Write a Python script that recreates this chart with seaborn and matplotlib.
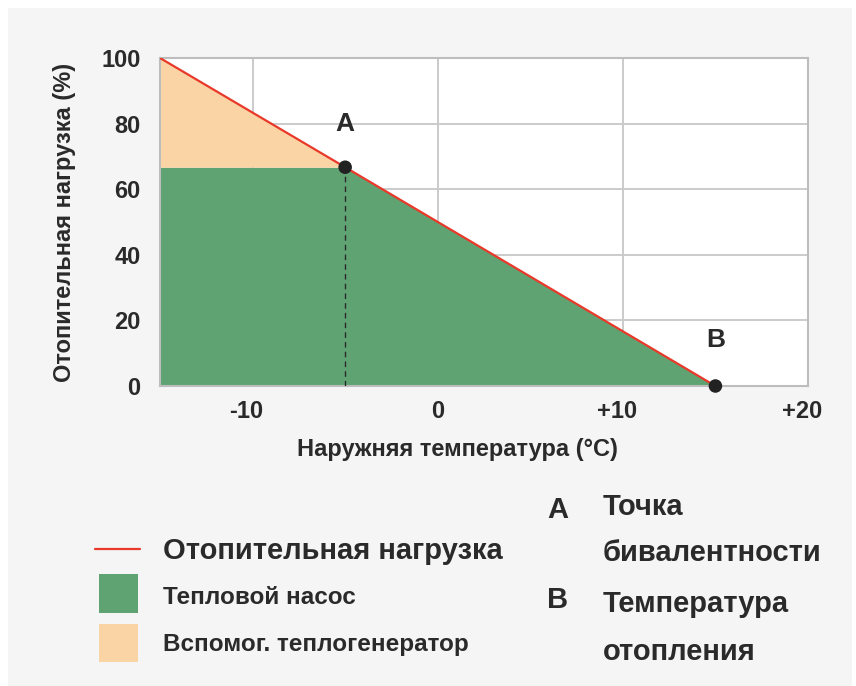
import matplotlib
matplotlib.use("Agg")
import matplotlib.pyplot as plt
import matplotlib.transforms as mtransforms
import seaborn as sns
import pandas as pd
from matplotlib.patches import Rectangle

# data
temps = [-15, -5, 15]
load = [100, 66.7, 0]          # Отопительная нагрузка
pump = [66.7, 66.7, 0]         # Тепловой насос
points_x = [-5, 15]
points_y = [66.7, 0]
point_names = ["A", "B"]
xticks = [-10, 0, 10, 20]
xtick_labels = ["-10", "0", "+10", "+20"]
yticks = [0, 20, 40, 60, 80, 100]

legend_labels = ["Отопительная нагрузка", "Тепловой насос", "Вспомог. теплогенератор"]
notes = [("A", "Точка", "бивалентности"), ("B", "Температура", "отопления")]

red = "#e8392a"
green = "#5fa373"
orange = "#fad4a4"
ink = "#2a2a2a"
grid = "#cbcbcb"

sns.set_theme(style="whitegrid")
plt.rcParams["font.family"] = ["Liberation Sans", "DejaVu Sans"]
plt.rcParams["font.weight"] = "bold"

fig = plt.figure(figsize=(8.56, 6.86), dpi=100)
fig.patch.set_facecolor("white")
fig.patches.append(Rectangle((8 / 856, 0), 844 / 856, 678 / 686, transform=fig.transFigure,
                             facecolor="#f5f5f5", edgecolor="none", zorder=-10))

ax = fig.add_axes([160 / 856, 300 / 686, 648 / 856, 328 / 686])
ax.set_facecolor("white")

df = pd.DataFrame({"t": temps, "load": load, "pump": pump})
ax.fill_between(df["t"], 0, df["pump"], color=green, linewidth=0, zorder=2)
ax.fill_between(df["t"], df["pump"], df["load"], color=orange, linewidth=0, zorder=2)
sns.lineplot(data=df, x="t", y="load", color=red, linewidth=1.6, ax=ax, zorder=3)
ax.plot([points_x[0], points_x[0]], [0, points_y[0]], color=ink, linestyle=(0, (4, 3)),
        linewidth=1, zorder=3)
sns.scatterplot(x=points_x, y=points_y, color="#222222", s=95, edgecolor="none",
                ax=ax, zorder=5, clip_on=False)
ax.text(points_x[0], 80, point_names[0], ha="center", va="center", fontsize=19,
        color=ink, fontweight="bold")
ax.text(points_x[1], 14, point_names[1], ha="center", va="center", fontsize=19,
        color=ink, fontweight="bold")

ax.set_xlim(-15, 20)
ax.set_ylim(0, 100)
ax.set_xticks(xticks)
ax.set_xticklabels(xtick_labels)
ax.set_yticks(yticks)
ax.grid(True, color=grid, linewidth=1.4, zorder=1)
ax.set_axisbelow(True)
for s in ax.spines.values():
    s.set_visible(True)
    s.set_color("#bdbdbd")
    s.set_linewidth(1.5)
ax.tick_params(axis="both", which="major", length=6, width=1.3, color=grid,
               labelsize=17, labelcolor=ink)
ax.tick_params(axis="x", pad=4)
ax.tick_params(axis="y", pad=8)
for lab in ax.get_xticklabels() + ax.get_yticklabels():
    lab.set_fontweight("bold")
# signed labels: the number sits on the tick, the sign hangs to the left
for lab, txt in zip(ax.get_xticklabels(), xtick_labels):
    if txt[0] in "+-":
        lab.set_transform(lab.get_transform() + mtransforms.ScaledTranslation(-6 / 100, 0, fig.dpi_scale_trans))
ax.set_xlabel("Наружняя температура (°C)", fontsize=17, fontweight="bold", color=ink)
ax.xaxis.set_label_coords((457 - 160) / 648, -(438 - 386) / 328)
ax.set_ylabel("Отопительная нагрузка (%)", fontsize=17, fontweight="bold", color=ink)
ax.yaxis.set_label_coords(-(160 - 76) / 648, 0.5)

# legend drawn by hand below the plot
fig.lines.append(plt.Line2D([95 / 856, 140 / 856], [1 - 549 / 686] * 2, transform=fig.transFigure,
                            color=red, linewidth=1.6))
fig.patches.append(Rectangle((99 / 856, 1 - 613 / 686), 39 / 856, 39 / 686, transform=fig.transFigure,
                             facecolor=green, edgecolor="none"))
fig.patches.append(Rectangle((99 / 856, 1 - 662 / 686), 39 / 856, 38 / 686, transform=fig.transFigure,
                             facecolor=orange, edgecolor="none"))
fig.text(163 / 856, 1 - 551 / 686, legend_labels[0], fontsize=21, color=ink, va="center", fontweight="bold")
fig.text(163 / 856, 1 - 597 / 686, legend_labels[1], fontsize=17.5, color=ink, va="center", fontweight="bold")
fig.text(163 / 856, 1 - 645 / 686, legend_labels[2], fontsize=17.5, color=ink, va="center", fontweight="bold")

rows = [(510, 507, 553), (600, 604, 652)]
for (letter, l1, l2), (yl, y1, y2) in zip(notes, rows):
    fig.text(558 / 856, 1 - yl / 686, letter, fontsize=21, color=ink, ha="center", va="center", fontweight="bold")
    fig.text(603 / 856, 1 - y1 / 686, l1, fontsize=21, color=ink, va="center", fontweight="bold")
    fig.text(603 / 856, 1 - y2 / 686, l2, fontsize=21, color=ink, va="center", fontweight="bold")

fig.savefig("out.png", dpi=100, facecolor=fig.get_facecolor())
